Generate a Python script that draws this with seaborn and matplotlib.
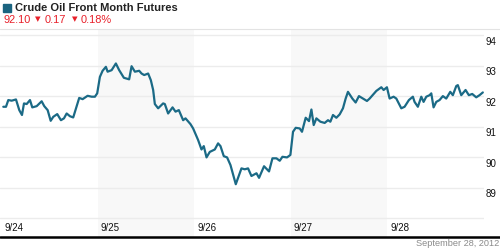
import numpy as np
import pandas as pd
import matplotlib
matplotlib.use("Agg")
import matplotlib.pyplot as plt
import matplotlib.transforms as mtransforms
from matplotlib.lines import Line2D
import seaborn as sns

# ---- data ----
hours = [0.57, 1.24, 1.81, 2.66, 3.72, 4.54, 5.21, 5.71, 6.38, 7.20, 7.77, 8.86, 10.10, 10.75,
         11.59, 12.34, 12.98, 13.97, 14.89, 15.64, 16.31, 17.13, 17.94, 19.43, 20.28, 21.52,
         22.51, 23.33, 23.90, 24.57, 25.24, 26.06, 26.48, 27.48, 28.54, 29.36, 30.53, 31.84,
         32.44, 33.26, 34.33, 34.92, 35.57, 36.56, 37.23, 37.80, 38.22, 39.04, 40.28, 40.70,
         41.52, 42.62, 43.36, 44.18, 45.25, 45.84, 47.08, 47.73, 48.97, 49.81, 50.38, 51.06,
         51.87, 53.12, 53.93, 54.53, 55.35, 56.17, 57.01, 58.33, 59.74, 60.56, 61.38, 62.22,
         63.47, 64.11, 65.35, 66.59, 67.44, 68.43, 69.25, 69.92, 71.06, 71.90, 72.55, 73.22,
         74.21, 74.78, 75.70, 76.52, 77.12, 77.69, 78.36, 79.35, 80.42, 81.24, 81.83, 82.48,
         83.32, 84.14, 84.96, 85.63, 86.20, 87.29, 88.11, 88.93, 89.92, 90.92, 91.59, 93.25,
         94.49, 95.06, 95.88, 96.55, 97.54, 98.21, 99.45, 100.27, 101.34, 102.33, 102.75,
         103.57, 104.42, 104.99, 105.66, 106.48, 106.90, 107.47, 108.14, 108.96, 109.78,
         110.62, 111.62, 112.26, 113.11, 113.50, 114.35, 115.42, 116.24, 117.08, 118.07,
         118.89, 119.71]
prices = [91.65, 91.65, 91.87, 91.85, 91.89, 91.54, 91.38, 91.76, 91.74, 91.87, 91.63, 91.67,
          91.83, 91.67, 91.54, 91.19, 91.32, 91.41, 91.21, 91.27, 91.43, 91.34, 91.30, 91.94,
          91.90, 92.01, 91.98, 91.98, 92.09, 92.63, 92.83, 92.96, 92.80, 92.85, 93.07, 92.85,
          92.60, 92.55, 92.98, 92.80, 92.83, 92.74, 92.69, 92.74, 92.52, 92.20, 91.74, 91.60,
          91.76, 91.74, 91.43, 91.63, 91.49, 91.54, 91.21, 91.27, 91.08, 90.94, 90.56, 90.25,
          90.36, 89.99, 90.17, 90.25, 90.45, 90.36, 90.03, 89.99, 89.74, 89.11, 89.63, 89.60,
          89.63, 89.38, 89.47, 89.32, 89.70, 89.53, 89.96, 89.96, 89.88, 90.01, 89.99, 90.07,
          90.83, 90.96, 90.94, 90.83, 91.29, 91.18, 91.56, 91.05, 91.27, 91.16, 91.12, 91.21,
          91.16, 91.38, 91.29, 91.40, 91.60, 91.92, 92.14, 91.92, 91.79, 92.00, 91.92, 91.84,
          91.92, 92.17, 92.29, 92.20, 92.29, 91.92, 91.98, 91.92, 91.60, 91.65, 91.87, 91.98,
          91.81, 91.65, 91.98, 91.81, 91.98, 92.03, 92.09, 91.63, 91.81, 91.87, 92.00, 91.92,
          92.14, 92.03, 92.33, 92.36, 92.03, 92.20, 92.03, 92.07, 91.96, 92.03, 92.12]
day_starts = [0, 24, 48, 72, 96]
day_labels = ["9/24", "9/25", "9/26", "9/27", "9/28"]
shaded_days = [(24, 48), (72, 96)]
y_ticks = [89, 90, 91, 92, 93, 94]
grid_levels = [88, 89, 90, 91, 92, 93, 94]
title = "Crude Oil Front Month Futures"
last_price = "92.10"
change = "0.17"
change_pct = "0.18%"
date_text = "September 28, 2012"

df = pd.DataFrame({"hour": hours, "price": prices})

# ---- style ----
sns.set_style("white")
plt.rcParams["font.family"] = ["Liberation Sans", "DejaVu Sans"]

LINE = "#1b6a86"
RED = "#e8202a"

fig = plt.figure(figsize=(5, 2.5), dpi=100)
ax = fig.add_axes([0, 1 - 237 / 250, 484 / 500, (237 - 29) / 250])

for a, b in shaded_days:
    ax.axvspan(a, b, color="#f8f8f8", lw=0, zorder=0)
for g in grid_levels:
    ax.axhline(g, color="#ececec", lw=1.0, zorder=1)

sns.lineplot(data=df, x="hour", y="price", ax=ax, color=LINE, lw=1.6, zorder=3)

ax.set_xlim(-0.25, 120)
ax.set_ylim(87.38, 94.2)
for s in ax.spines.values():
    s.set_visible(False)
ax.set_xlabel("")
ax.set_ylabel("")

# y tick labels on the right, slightly below gridlines
ax.yaxis.tick_right()
ax.set_yticks(y_ticks)
ax.set_yticklabels([str(t) for t in y_ticks])
ax.tick_params(axis="y", length=0, pad=1, labelsize=7.0, labelcolor="#111111")
off_y = mtransforms.ScaledTranslation(0, -5.5 / 100, fig.dpi_scale_trans)
for lab in ax.get_yticklabels():
    lab.set_transform(lab.get_transform() + off_y)

# x tick labels inside the plot above the bottom line
ax.set_xticks(day_starts)
ax.set_xticklabels(day_labels)
ax.tick_params(axis="x", length=0, pad=0, labelsize=7.0, labelcolor="#111111")
off_x = mtransforms.ScaledTranslation(3 / 100, 9 / 100, fig.dpi_scale_trans)
for lab in ax.get_xticklabels():
    lab.set_horizontalalignment("left")
    lab.set_verticalalignment("center")
    lab.set_transform(lab.get_transform() + off_x)

# bottom black rule across whole figure
fig.add_artist(Line2D([0, 1], [1 - 237 / 250, 1 - 237 / 250], color="black", lw=1.8,
                      transform=fig.transFigure))
# header separator
fig.add_artist(Line2D([0, 1], [1 - 28.5 / 250, 1 - 28.5 / 250], color="#e3e3e3", lw=0.8,
                      transform=fig.transFigure))

# header
fig.patches.append(plt.Rectangle((3 / 500, 1 - 12 / 250), 8 / 500, 8 / 250,
                                 transform=fig.transFigure, color="#1b6480", figure=fig))
fig.text(15 / 500, 1 - 8 / 250, title, fontsize=8.0, fontweight="bold", color="#222222",
         va="center", ha="left")
fig.text(4 / 500, 1 - 20 / 250, last_price, fontsize=7.9, color=RED, va="center", ha="left")
fig.text(34.5 / 500, 1 - 19 / 250, "\u25bc", fontsize=5.2, color=RED, va="center", ha="left",
         family="DejaVu Sans")
fig.text(44.5 / 500, 1 - 20 / 250, change, fontsize=7.9, color=RED, va="center", ha="left")
fig.text(71.5 / 500, 1 - 19 / 250, "\u25bc", fontsize=5.2, color=RED, va="center", ha="left",
         family="DejaVu Sans")
fig.text(81 / 500, 1 - 20 / 250, change_pct, fontsize=7.9, color=RED, va="center", ha="left")

fig.text(499 / 500, 1 - 244 / 250, date_text, fontsize=6.6, color="#8a8a8a", va="center",
         ha="right")

fig.savefig("out.png", dpi=100)
